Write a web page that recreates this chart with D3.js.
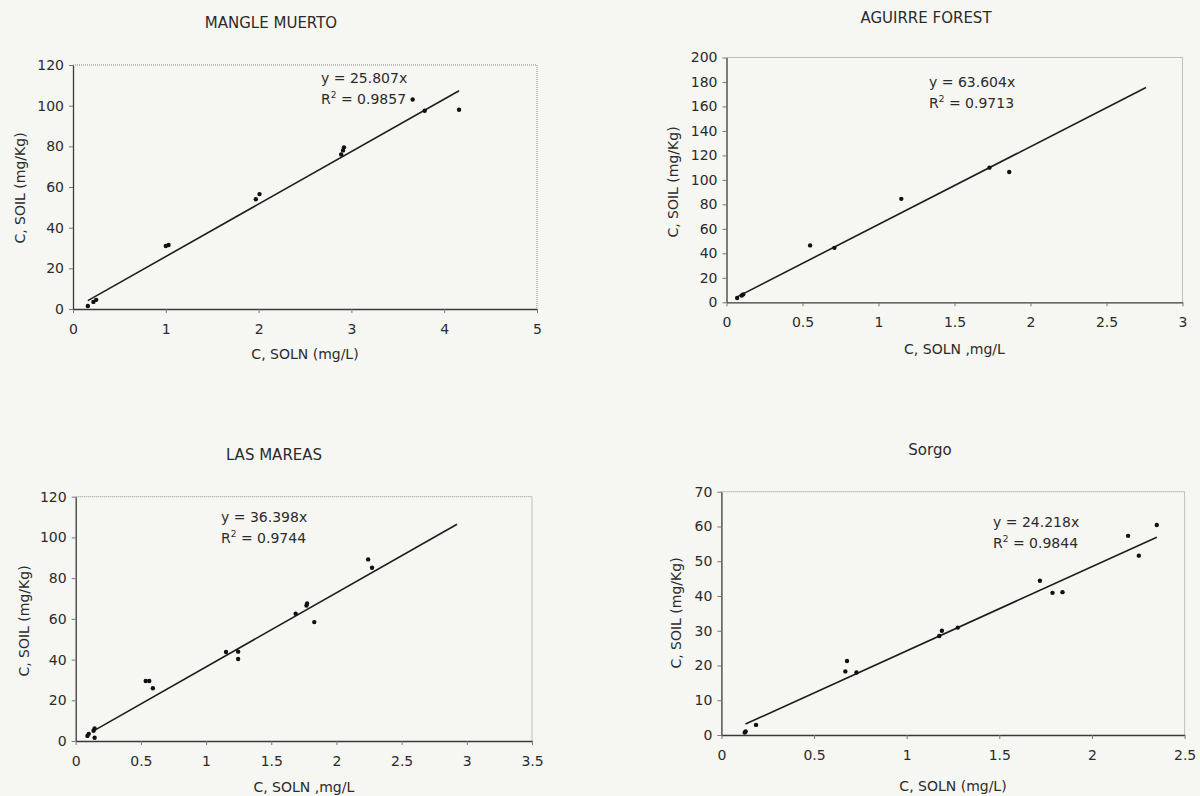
<!DOCTYPE html>
<html>
<head>
<meta charset="utf-8">
<title>Isotermas</title>
<script src="https://d3js.org/d3.v7.min.js"></script>
<style>
  body { margin: 0; background: #f6f6f3; }
  text { font-family: "DejaVu Sans", sans-serif; fill: #2b2b2b; }
</style>
</head>
<body>
<div id="chart"></div>
<script>
// datos
const titles = ["MANGLE MUERTO", "AGUIRRE FOREST", "LAS MAREAS", "Sorgo"];
const xLabels = ["C, SOLN (mg/L)", "C, SOLN ,mg/L", "C, SOLN ,mg/L", "C, SOLN  (mg/L)"];
const yLabel = "C, SOIL (mg/Kg)";

const mangleX = [0.16, 0.22, 0.25, 1.0, 1.03, 1.97, 2.01, 2.89, 2.91, 2.92, 3.66, 3.79, 4.16];
const mangleY = [1.5, 3.5, 4.5, 31, 31.5, 54, 56.5, 76, 78, 79.5, 103, 97.5, 98];

const aguirreX = [0.07, 0.1, 0.11, 0.55, 0.71, 1.15, 1.73, 1.86];
const aguirreY = [3.5, 5.5, 6.5, 46.5, 44.5, 84.5, 110, 106.5];

const mareasX = [0.09, 0.1, 0.137, 0.145, 0.145, 0.537, 0.564, 0.592, 1.153, 1.246, 1.246, 1.687, 1.77, 1.775, 1.83, 2.243, 2.273];
const mareasY = [2.5, 3.5, 5, 6.2, 1.6, 29.5, 29.5, 25.9, 43.7, 43.9, 40.3, 62.5, 66.5, 67.6, 58.4, 89.2, 85.1];

const sorgoX = [0.126, 0.131, 0.187, 0.669, 0.678, 0.729, 1.176, 1.19, 1.276, 1.719, 1.787, 1.841, 2.195, 2.253, 2.35];
const sorgoY = [0.7, 1.0, 2.9, 18.3, 21.3, 18, 28.5, 30, 30.9, 44.4, 40.9, 41.1, 57.3, 51.6, 60.4];

const slopes = [25.807, 63.604, 36.398, 24.218];
const rSquared = ["0.9857", "0.9713", "0.9744", "0.9844"];
const trendStart = [0.16, 0.07, 0.137, 0.13];
const trendEnd = [4.16, 2.76, 2.925, 2.35];

const xTicks1 = [0, 1, 2, 3, 4, 5];
const yTicks1 = [0, 20, 40, 60, 80, 100, 120];
const xTicks2 = [0, 0.5, 1, 1.5, 2, 2.5, 3];
const yTicks2 = [0, 20, 40, 60, 80, 100, 120, 140, 160, 180, 200];
const xTicks3 = [0, 0.5, 1, 1.5, 2, 2.5, 3, 3.5];
const yTicks3 = [0, 20, 40, 60, 80, 100, 120];
const xTicks4 = [0, 0.5, 1, 1.5, 2, 2.5];
const yTicks4 = [0, 10, 20, 30, 40, 50, 60, 70];

// posicion de cada grafico en la pagina
const panels = [
  {xs: mangleX, ys: mangleY, xt: xTicks1, yt: yTicks1, box: [73, 65, 537, 309],
   title: [271, 28], ylab: [20, 188], eq: [321, 83], xlabDy: 50},
  {xs: aguirreX, ys: aguirreY, xt: xTicks2, yt: yTicks2, box: [726.5, 57.5, 1182.5, 302.3],
   title: [926, 23], ylab: [673, 182], eq: [929, 87], xlabDy: 52},
  {xs: mareasX, ys: mareasY, xt: xTicks3, yt: yTicks3, box: [75.7, 496.7, 532, 741],
   title: [274, 460], ylab: [24, 621], eq: [221, 522], xlabDy: 51},
  {xs: sorgoX, ys: sorgoY, xt: xTicks4, yt: yTicks4, box: [721.4, 491.7, 1184.6, 735],
   title: [930, 455], ylab: [676, 613], eq: [993, 527], xlabDy: 56}
];

const svg = d3.select("#chart").append("svg")
  .attr("width", 1200)
  .attr("height", 796);

panels.forEach(function(p, i) {
  let [x0, y0, x1, y1] = p.box;
  let xScale = d3.scaleLinear().domain([0, d3.max(p.xt)]).range([x0, x1]);
  let yScale = d3.scaleLinear().domain([0, d3.max(p.yt)]).range([y1, y0]);

  let g = svg.append("g");

  // borde punteado arriba y derecha
  g.append("path")
    .attr("d", "M" + x0 + "," + y0 + "H" + x1 + "V" + y1)
    .attr("fill", "none")
    .attr("stroke", "#8a8a8a")
    .attr("stroke-width", 1)
    .attr("stroke-dasharray", "1,1");

  let xAxis = d3.axisBottom(xScale).tickValues(p.xt).tickSize(4).tickSizeOuter(0)
    .tickFormat(d => String(d));
  let yAxis = d3.axisLeft(yScale).tickValues(p.yt).tickSize(4).tickSizeOuter(0)
    .tickFormat(d => String(d));

  let gx = g.append("g").attr("transform", "translate(0," + y1 + ")").call(xAxis);
  let gy = g.append("g").attr("transform", "translate(" + x0 + ",0)").call(yAxis);
  [gx, gy].forEach(function(a) {
    a.select(".domain").attr("stroke", "#3a3a3a").attr("stroke-width", 1.3);
    a.selectAll(".tick line").attr("stroke", "#777");
    a.selectAll(".tick text").attr("font-size", "14px").attr("fill", "#2b2b2b")
      .attr("font-family", "DejaVu Sans, sans-serif");
  });
  gx.selectAll(".tick text").attr("dy", "1.25em");
  gy.selectAll(".tick text").attr("x", -9);

  // linea de tendencia
  g.append("line")
    .attr("x1", xScale(trendStart[i]))
    .attr("y1", yScale(slopes[i] * trendStart[i]))
    .attr("x2", xScale(trendEnd[i]))
    .attr("y2", yScale(slopes[i] * trendEnd[i]))
    .attr("stroke", "#1e1e1e")
    .attr("stroke-width", 1.6);

  // puntos
  g.selectAll("circle")
    .data(d3.zip(p.xs, p.ys))
    .enter()
    .append("circle")
    .attr("cx", d => xScale(d[0]))
    .attr("cy", d => yScale(d[1]))
    .attr("r", 2.2)
    .attr("fill", "#111");

  // titulo
  g.append("text")
    .attr("x", p.title[0]).attr("y", p.title[1])
    .attr("text-anchor", "middle")
    .attr("font-size", "15px")
    .text(titles[i]);

  // titulo eje horizontal
  g.append("text")
    .attr("x", (x0 + x1) / 2).attr("y", y1 + p.xlabDy)
    .attr("text-anchor", "middle")
    .attr("font-size", "14px")
    .text(xLabels[i]);

  // titulo eje vertical
  g.append("text")
    .attr("transform", "translate(" + (p.ylab[0] + 5) + "," + p.ylab[1] + ") rotate(-90)")
    .attr("text-anchor", "middle")
    .attr("font-size", "14px")
    .text(yLabel);

  // ecuacion
  g.append("text")
    .attr("x", p.eq[0]).attr("y", p.eq[1])
    .attr("font-size", "14px")
    .text("y = " + slopes[i] + "x");
  let r2 = g.append("text")
    .attr("x", p.eq[0]).attr("y", p.eq[1] + 21)
    .attr("font-size", "14px");
  r2.append("tspan").text("R");
  r2.append("tspan").attr("font-size", "9px").attr("dy", "-6").text("2");
  r2.append("tspan").attr("dy", "6").text(" = " + rSquared[i]);
});
</script>
</body>
</html>
